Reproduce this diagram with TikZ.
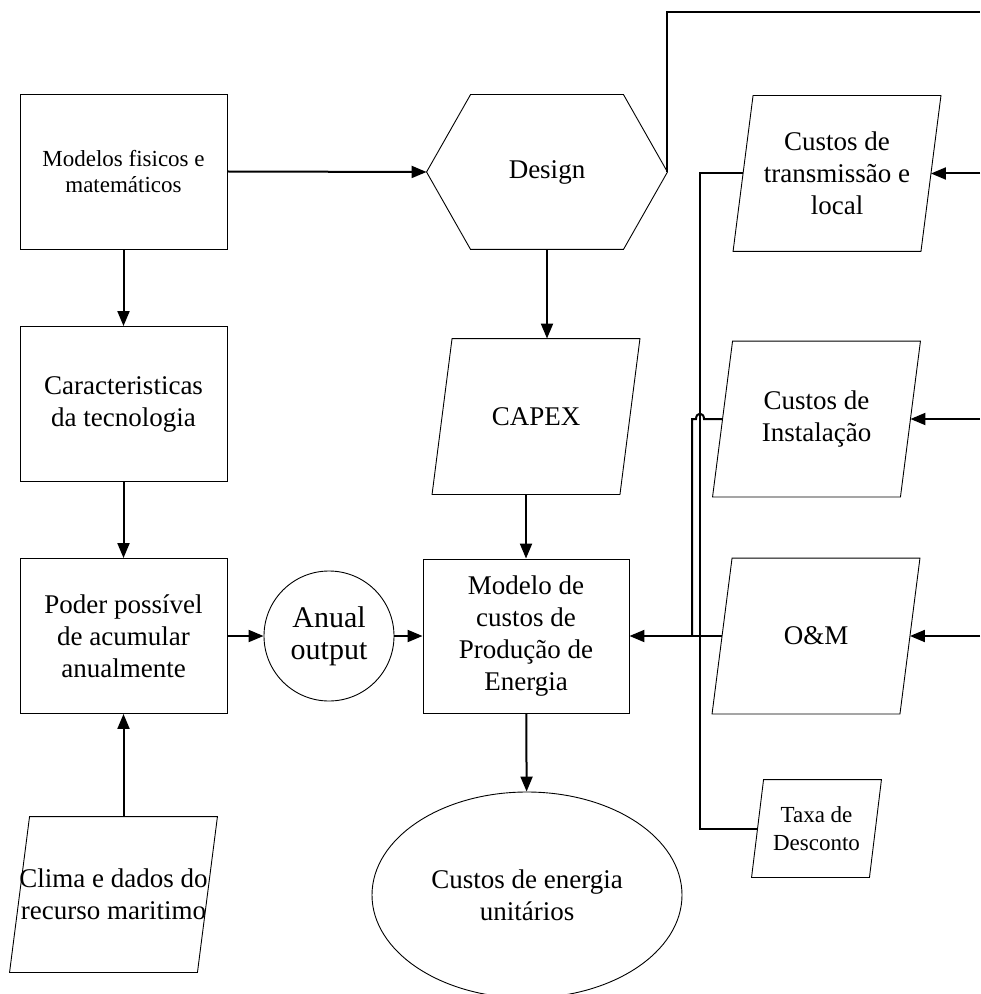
\documentclass[tikz,border=0pt]{standalone}
\usepackage{fontspec}
\setmainfont{Liberation Serif}
\usetikzlibrary{arrows.meta,shapes.geometric}
\tikzset{
  blk/.style={draw,line width=0.45pt,minimum width=103.5pt,minimum height=77.5pt,
    align=center,inner sep=1pt,font=\fontsize{13.5}{16}\selectfont},
  io/.style={blk,draw=none,minimum width=93.5pt},
  flow/.style={line width=1pt,-{Triangle[length=7.5pt,width=6pt]}},
  wire/.style={line width=1pt},
}
% slanted outline round a node: #1 node, #2 slant of the top edge
\newcommand{\ioshape}[2]{\draw[line width=0.45pt] ([xshift=#2]#1.north west) -- ([xshift=#2]#1.north east)
  -- ([xshift=-#2]#1.south east) -- ([xshift=-#2]#1.south west) -- cycle;}

\begin{document}
\begin{tikzpicture}[x=0.5pt,y=-0.5pt]
\useasboundingbox (0,0) rectangle (980,994);
% left column
\node (modelos) [blk,font=\fontsize{11.5}{13}\selectfont] at (123.5,171.5) {Modelos fisicos e\\matemáticos};
\node (caract) [blk] at (123.5,404) {Caracteristicas\\da tecnologia};
\node (poder) [blk] at (123.5,636) {Poder possível\\de acumular\\anualmente};
\node (clima) [io] at (113.5,894.5) {\makebox[80pt]{Clima e dados do}\\\makebox[80pt]{recurso maritimo}};
\ioshape{clima}{5pt}
% middle column
\node (design) [blk,draw=none,minimum width=120pt,minimum height=77pt] at (547,172) {Design};
\draw[line width=0.45pt] (design.west) -- ([xshift=22pt]design.north west) -- ([xshift=-22pt]design.north east)
  -- (design.east) -- ([xshift=-22pt]design.south east) -- ([xshift=22pt]design.south west) -- cycle;
\node (capex) [io] at (536,416.5) {CAPEX};
\ioshape{capex}{5pt}
\node (modelo) [blk,minimum width=103pt,minimum height=77pt] at (526,636) {Modelo de\\custos de\\Produção de\\Energia};
\node (anual) [draw,circle,line width=0.45pt,minimum size=65pt,inner sep=0pt,align=center,
  font=\fontsize{15}{16}\selectfont] at (329,636) {Anual\\output};
\node (unit) [draw,ellipse,line width=0.45pt,minimum width=155pt,minimum height=103pt,align=center,
  font=\fontsize{13.5}{16}\selectfont] at (527,895) {Custos de energia\\unitários};
% cost inputs
\node (trans) [io] at (837,173.5) {Custos de\\transmissão e\\local};
\ioshape{trans}{5pt}
\node (inst) [io] at (816.5,419) {Custos de\\Instalação};
\ioshape{inst}{5pt}
\node (om) [io] at (816,636) {O\&M};
\ioshape{om}{5pt}
\node (taxa) [io,minimum width=58.5pt,minimum height=48.5pt,font=\fontsize{11.5}{14}\selectfont] at (816.5,828.5) {Taxa de\\Desconto};
\ioshape{taxa}{3pt}
\coordinate (topR) at (980,12);
\coordinate (inT) at (980,173.5);
\coordinate (inI) at (980,419);
\coordinate (inO) at (980,636);
\coordinate (bus) at (700,500);
% connectors
\draw[flow] (modelos) -- (caract);
\draw[flow] (caract) -- (poder);
\draw[flow] (clima.north -| poder.south) -- (poder.south);
\draw[flow] (poder) -- (anual);
\draw[flow] (anual) -- (modelo);
\draw[flow] (modelos.east) -- (design.west);
\draw[flow] (design.south) -- (design.south |- capex.north);
\draw[flow] (capex.south -| modelo.north) -- (modelo.north);
\draw[flow] (modelo) -- (unit);
\draw[wire] (design.east) |- (topR);
\draw[flow] (inT) -- (trans);
\draw[flow] (inI) -- (inst);
\draw[flow] (inO) -- (om);
\draw[wire] (trans.west) -| (bus) |- (taxa.west);
\draw[wire] (inst.west) -- (704,419) .. controls (704,412) and (696,412) .. (696,419) -- (692,419) -- (692,636);
\draw[flow] (om.west) -- (modelo.east);
\end{tikzpicture}
\end{document}
